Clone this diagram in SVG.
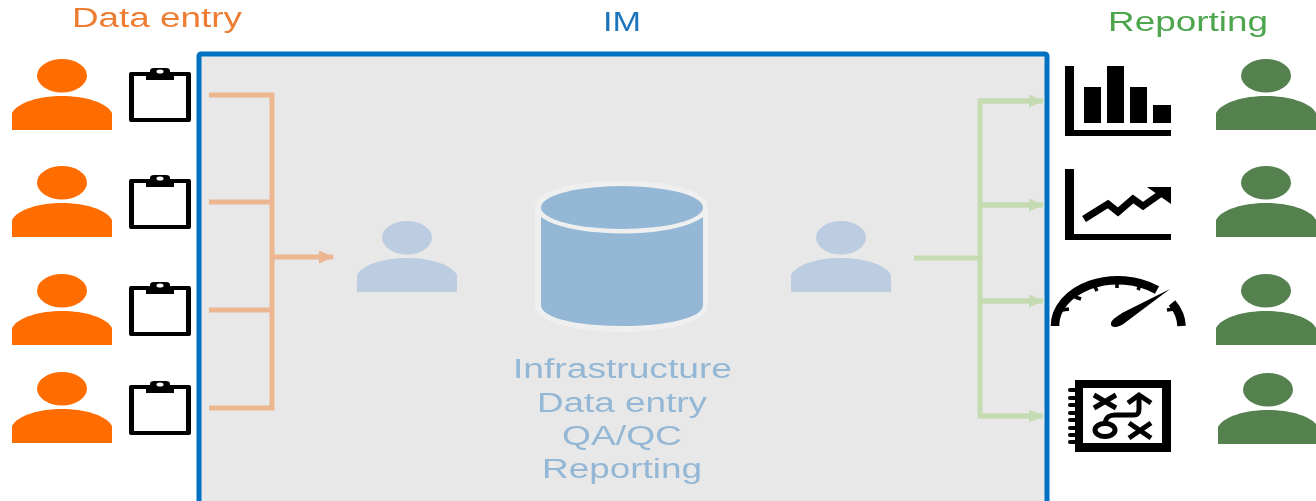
<svg xmlns="http://www.w3.org/2000/svg" xmlns:xlink="http://www.w3.org/1999/xlink" width="1316" height="501" viewBox="0 0 1316 501">
<style>
text{font-family:"Liberation Sans",Arial,sans-serif;font-size:27px}
.o{fill:#ff6d00}.g{fill:#548150}.l{fill:#bccde1}
.oc{fill:none;stroke:#ebb690;stroke-width:5}
.gc{fill:none;stroke:#c5dcb2;stroke-width:5}
.bt{fill:#93b7d4}
.ik{fill:none;stroke:#000;stroke-linejoin:miter}
</style>
<defs>
<filter id="soft" x="-2%" y="-2%" width="104%" height="104%"><feGaussianBlur stdDeviation="0.5"/></filter>
<symbol id="person" overflow="visible"><ellipse cx="50" cy="16.700" rx="25" ry="16.700"/><path d="M0 71V54C6 43 28 37 50 37S94 43 100 54V71Z"/></symbol>
<symbol id="clip" overflow="visible"><path fill-rule="evenodd" d="M2 0H60Q62 0 62 2V48Q62 50 60 50H2Q0 50 0 48V2Q0 0 2 0ZM5 4V46H57V4Z"/><path d="M17 8V1H21V-1Q21-4 25-4H37Q41-4 41-1V1H45V8Z"/><ellipse cx="31" cy="-.5" rx="3.500" ry="2" fill="#fff"/></symbol>
<marker id="ao" markerUnits="userSpaceOnUse" markerWidth="15" markerHeight="13" refX="14" refY="6.500" orient="auto"><path d="M0 0L15 6.500L0 13Z" fill="#ebb690"/></marker>
<marker id="ag" markerUnits="userSpaceOnUse" markerWidth="15" markerHeight="13" refX="14" refY="6.500" orient="auto"><path d="M0 0L15 6.500L0 13Z" fill="#c5dcb2"/></marker>
</defs>
<rect width="1316" height="501" fill="#fff"/>
<g filter="url(#soft)">
<g id="im-box"><rect x="199" y="54" width="848" height="470" rx="2" fill="#e8e8e8" stroke="#0070c0" stroke-width="5"/></g>
<g id="connectors">
<path class="oc" d="M209 95H272V408H209M209 202H272M209 310H272"/>
<path class="oc" d="M272 257H333" marker-end="url(#ao)"/>
<path class="gc" d="M914 258H980"/>
<path class="gc" d="M1043 101H980V416H1043M980 205H1043M980 301H1043"/>
<path class="gc" d="M980 101H1043" marker-end="url(#ag)"/>
<path class="gc" d="M980 205H1043" marker-end="url(#ag)"/>
<path class="gc" d="M980 301H1043" marker-end="url(#ag)"/>
<path class="gc" d="M980 416H1043" marker-end="url(#ag)"/>
</g>
<g id="label-data-entry"><text x="72" y="27" textLength="170" lengthAdjust="spacingAndGlyphs" fill="#ed7d31">Data entry</text></g>
<g id="label-im"><text x="603" y="31" textLength="38" lengthAdjust="spacingAndGlyphs" fill="#1b75bc">IM</text></g>
<g id="label-reporting"><text x="1108" y="31" textLength="160" lengthAdjust="spacingAndGlyphs" fill="#4ea64e">Reporting</text></g>
<g id="entry-user-1" class="o"><use href="#person" x="12" y="59"/></g>
<g id="entry-user-2" class="o"><use href="#person" x="12" y="166"/></g>
<g id="entry-user-3" class="o"><use href="#person" x="12" y="274"/></g>
<g id="entry-user-4" class="o"><use href="#person" x="12" y="372"/></g>
<g id="clipboard-1"><use href="#clip" x="129" y="72"/></g>
<g id="clipboard-2"><use href="#clip" x="129" y="179"/></g>
<g id="clipboard-3"><use href="#clip" x="129" y="286"/></g>
<g id="clipboard-4"><use href="#clip" x="129" y="385"/></g>
<g id="im-user-left" class="l"><use href="#person" x="357" y="221"/></g>
<g id="im-user-right" class="l"><use href="#person" x="791" y="221"/></g>
<g id="database">
<path d="M535 207C535 172 708 172 708 207V305C708 341 535 341 535 305Z" fill="#efefef"/>
<path d="M541 217C570 239 674 239 703 217V305C703 333 541 333 541 305Z" fill="#93b7d4"/>
<ellipse cx="622" cy="207.500" rx="81" ry="21.500" fill="#93b7d4"/>
</g>
<g id="im-text">
<text x="513" y="378" textLength="219" lengthAdjust="spacingAndGlyphs" class="bt">Infrastructure</text>
<text x="537" y="412" textLength="170" lengthAdjust="spacingAndGlyphs" class="bt">Data entry</text>
<text x="562" y="445" textLength="120" lengthAdjust="spacingAndGlyphs" class="bt">QA/QC</text>
<text x="542" y="478" textLength="160" lengthAdjust="spacingAndGlyphs" class="bt">Reporting</text>
</g>
<g id="bar-chart-icon">
<path d="M1065 66H1074V130H1171V136H1065ZM1084 87H1101V123H1084ZM1107 66H1124V123H1107ZM1130 87H1147V123H1130ZM1153 105H1171V123H1153Z"/>
</g>
<g id="line-chart-icon">
<path d="M1065 169H1074V234H1171V240H1065Z"/>
<path class="ik" stroke-width="7" d="M1084 219L1108 204L1118 212L1133 199L1143 206L1163 192"/>
<path d="M1147 187H1171V204Z"/>
</g>
<g id="gauge-icon">
<path class="ik" stroke-width="8.500" d="M1055 326A63 45.500 0 0 1 1157 290M1172 303A63 45.500 0 0 1 1181.500 326"/>
<path class="ik" stroke-width="3.500" d="M1062 310L1069 309M1075 297L1081 299M1095 287L1097 291M1117 284V288M1140 285L1138 290M1167 310L1174 309"/>
<path d="M1170 289L1126 322C1119 328 1110 329 1111 323C1112 319 1118 316 1122 313Z"/>
</g>
<g id="map-icon">
<path fill-rule="evenodd" d="M1075 380H1171V452H1075ZM1083 388V443H1162V388Z"/>
<path class="ik" stroke-width="4" stroke-linecap="round" d="M1070 390H1075M1070 398H1075M1070 405H1075M1070 413H1075M1070 420H1075M1070 428H1075M1070 435H1075M1070 442H1075"/>
<path class="ik" stroke-width="5" d="M1094 395L1116 408M1116 395L1094 408M1129 423L1151 438M1151 423L1129 438M1105 423C1106 417 1109 415 1115 415H1134C1138 415 1139 413 1139 409V396"/>
<path class="ik" stroke-width="5" d="M1128 403L1139 395L1151 403"/>
<ellipse cx="1105" cy="430" rx="10" ry="6.500" class="ik" stroke-width="5"/>
</g>
<g id="report-user-1" class="g"><use href="#person" x="1216" y="59"/></g>
<g id="report-user-2" class="g"><use href="#person" x="1216" y="166"/></g>
<g id="report-user-3" class="g"><use href="#person" x="1216" y="274"/></g>
<g id="report-user-4" class="g"><use href="#person" x="1218" y="373"/></g>
</g>
</svg>
